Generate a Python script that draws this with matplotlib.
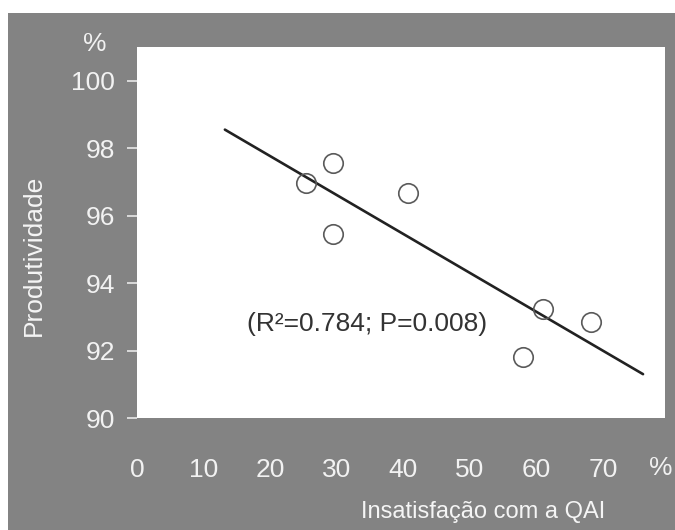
import matplotlib
matplotlib.use("Agg")
import matplotlib.pyplot as plt
from matplotlib.patches import Rectangle

plt.rcParams['font.family'] = ['Liberation Sans', 'DejaVu Sans']

# dados
insatisfacao = [25.4, 29.4, 29.4, 40.7, 61.0, 68.2, 58.0]
produtividade = [96.98, 97.57, 95.47, 96.66, 93.22, 92.84, 91.80]
reta_x = [13.2, 76.0]
reta_y = [98.55, 91.30]
xticks = [0, 10, 20, 30, 40, 50, 60, 70]
yticks = [90, 92, 94, 96, 98, 100]
anotacao = "(R²=0.784; P=0.008)"

fig = plt.figure(figsize=(6.75, 5.3), dpi=100)
fig.patch.set_facecolor("white")
# fundo cinzento da digitalização
fig.patches.append(Rectangle((8 / 675, 0), 1, (530 - 13) / 530,
                             transform=fig.transFigure, facecolor="#838383",
                             edgecolor="none", zorder=-5))

ax = fig.add_axes([137 / 675, (530 - 418) / 530, 528 / 675, 371 / 530])
ax.set_facecolor("white")

ax.plot(reta_x, reta_y, color="#222222", lw=1.9, solid_capstyle="round")
ax.plot(insatisfacao, produtividade, "o", ms=14, mfc="none", mec="#5a5a5a", mew=1.2)

ax.set_xlim(0, 79.3)
ax.set_ylim(90, 101)
ax.set_xticks(xticks)
ax.set_yticks(yticks)
for s in ax.spines.values():
    s.set_visible(False)

ax.tick_params(axis="x", length=0, pad=29, labelsize=19, labelcolor="#f2f2f2")
ax.tick_params(axis="y", length=7, width=1.2, color="#e8e8e8", pad=9,
               labelsize=19, labelcolor="#f2f2f2")

ax.text(78.6, -0.135, "%", transform=ax.get_xaxis_transform(), ha="center",
        va="center", fontsize=19, color="#f2f2f2", clip_on=False)
ax.text(-0.08, 101.1, "%", transform=ax.get_yaxis_transform(), ha="center",
        va="center", fontsize=19, color="#f2f2f2", clip_on=False)

ax.text(34.5, 92.8, anotacao, ha="center", va="center", fontsize=19,
        color="#333333")

fig.text(483 / 675, 1 - 512 / 530, "Insatisfação com a QAI", ha="center",
         va="center", fontsize=17, color="#f5f5f5")
fig.text(34 / 675, 1 - 255 / 530, "Produtividade", ha="center", va="center",
         rotation=90, fontsize=19, color="#f5f5f5")

fig.savefig("out.png", dpi=100)
